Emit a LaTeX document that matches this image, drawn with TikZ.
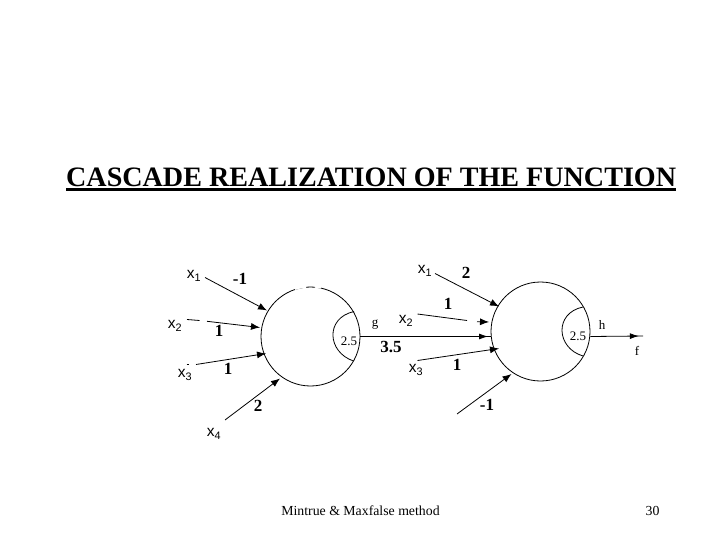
\documentclass[tikz,border=0pt]{standalone}
\usepackage{fontspec}
\setmainfont{Liberation Serif}
\setsansfont{Liberation Sans}
\usetikzlibrary{arrows.meta,decorations.markings}
\tikzset{
  neuron/.style={circle,draw=black,line width=0.8pt,minimum size=99pt,inner sep=0pt},
  conn/.style={line width=0.8pt,-{Latex[length=9pt,width=7pt]}},
  plain/.style={line width=0.8pt},
  headat/.style={line width=0.8pt,postaction={decorate},decoration={markings,mark=at position #1 with {\arrow{Latex[length=9pt,width=6pt]}}}},
  vname/.style={font=\sffamily\fontsize{15.5}{15.5}\selectfont,inner sep=0pt},
  weight/.style={font=\bfseries\fontsize{17}{17}\selectfont,inner sep=0pt},
  small/.style={font=\fontsize{13}{13}\selectfont,inner sep=0pt},
  thr/.style={font=\fontsize{13}{13}\selectfont,inner sep=0pt},
  foot/.style={font=\fontsize{13.8}{14}\selectfont,inner sep=0pt}
}
\begin{document}
\begin{tikzpicture}[x=1pt,y=-1pt]
\useasboundingbox (0,0) rectangle (720,540);
\node[anchor=base west,inner sep=0pt,font=\bfseries\fontsize{28.1}{28.1}\selectfont] (title) at (66,186.5) {CASCADE REALIZATION OF THE FUNCTION};
\coordinate (ul) at (66,189.5); \coordinate (ur) at (676,189.5);
\draw[line width=2.5pt] (ul) -- (ur);
\node[neuron] (n1) at (310.5,336.5) {};
\node[neuron] (n2) at (540.5,331.5) {};
\draw[white,line width=1.8pt] (n1.108) arc[start angle=108,end angle=95,radius=49.5pt];
\draw[white,line width=1.8pt] (n1.85) arc[start angle=85,end angle=78,radius=49.5pt];
% thresholds
\coordinate (t1a) at (354,311.5); \coordinate (t1b) at (353.5,361);
\draw[plain] (t1a) .. controls (325,318) and (327,352) .. (t1b);
\coordinate (t2a) at (583,307); \coordinate (t2b) at (583,356);
\draw[plain] (t2a) .. controls (554,313) and (556,348) .. (t2b);
\node[thr] (th1) at (349,341) {2.5};
\node[thr] (th2) at (578,336) {2.5};
% inputs of first neuron
\node[vname] (ax1) at (194,276) {x\textsubscript{1}};
\node[vname] (ax2) at (175,326) {x\textsubscript{2}};
\node[vname] (ax3) at (185,375) {x\textsubscript{3}};
\node[vname] (ax4) at (214,434) {x\textsubscript{4}};
\coordinate (bar1) at (186.5,364.5); \coordinate (bar2) at (189,364.5);
\draw[plain] (bar1) -- (bar2);
\coordinate (a1s) at (205,277.5); \coordinate (a1e) at (267,310.5);
\coordinate (a2s) at (187,319.5); \coordinate (a2m) at (199.5,320.5);
\coordinate (a2n) at (207,321.3); \coordinate (a2e) at (260,327.5);
\coordinate (a3s) at (196,364.5); \coordinate (a3e) at (266,353.5);
\coordinate (a4s) at (225,420); \coordinate (a4e) at (280,378.5);
\draw[conn] (a1s) -- (a1e);
\draw[plain] (a2s) -- (a2m);
\draw[conn] (a2n) -- (a2e);
\draw[conn] (a3s) -- (a3e);
\draw[conn] (a4s) -- (a4e);
\node[weight] (w1) at (240,279) {-1};
\node[weight] (w2) at (219,331) {1};
\node[weight] (w3) at (228,369) {1};
\node[weight] (w4) at (258,406) {2};
% connection
\path (n2.west |- n1.east) coordinate (n2in);
\draw[headat=0.98] (n1.east) -- (n2in);
\node[small] (g) at (375,325) {g};
\node[weight] (w35) at (391,347) {3.5};
% inputs of second neuron
\node[vname] (bx1) at (425,271) {x\textsubscript{1}};
\node[vname] (bx2) at (406,321) {x\textsubscript{2}};
\node[vname] (bx3) at (416,370) {x\textsubscript{3}};
\coordinate (b1s) at (435,273.5); \coordinate (b1e) at (499,306.5);
\coordinate (b2s) at (417.5,314); \coordinate (b2m) at (467,320.5);
\coordinate (b2n) at (477,321.7); \coordinate (b2e) at (489,322);
\coordinate (b3s) at (417.5,360.5); \coordinate (b3e) at (499,348.5);
\coordinate (b4s) at (457,414); \coordinate (b4e) at (511.5,374);
\draw[conn] (b1s) -- (b1e);
\draw[plain] (b2s) -- (b2m);
\draw[conn] (b2n) -- (b2e);
\draw[conn] (b3s) -- (b3e);
\draw[conn] (b4s) -- (b4e);
\node[weight] (v1) at (466,273) {2};
\node[weight] (v2) at (448,304) {1};
\node[weight] (v3) at (457,365) {1};
\node[weight] (v4) at (487,405) {-1};
% output
\coordinate (oe) at (643,336);
\path (n2.east |- n1.east) coordinate (n2out);
\draw[headat=0.92] (n2out) -- (oe);
\node[small] (h) at (602,325) {h};
\node[small] (f) at (637,351) {f};
% footer
\node[foot,anchor=base] (cap) at (360.5,515) {Mintrue \& Maxfalse method};
\node[foot,anchor=base] (pg) at (652.5,515) {30};
\end{tikzpicture}
\end{document}
